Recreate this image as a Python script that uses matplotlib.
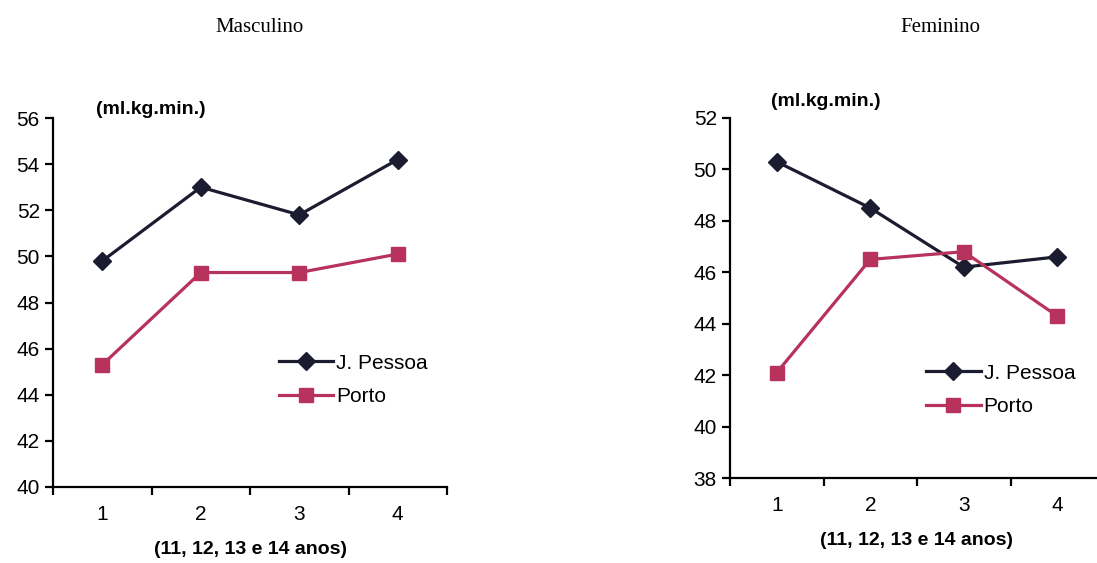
import matplotlib
matplotlib.use("Agg")
import matplotlib.pyplot as plt

# data
idades = [1, 2, 3, 4]
masc_pessoa = [49.8, 53.0, 51.8, 54.2]
masc_porto = [45.3, 49.3, 49.3, 50.1]
fem_pessoa = [50.3, 48.5, 46.2, 46.6]
fem_porto = [42.1, 46.5, 46.8, 44.3]

NAVY, ROSE = "#1C1C30", "#B8325E"
plt.rcParams["font.family"] = ["Liberation Sans", "DejaVu Sans"]

W, H = 1097, 563
fig = plt.figure(figsize=(W / 100, H / 100), dpi=100)


def painel(rect, pessoa, porto, ylim, titulo, tit_x, unid_y, leg_xy):
    ax = fig.add_axes(rect)
    ax.plot(idades, pessoa, color=NAVY, lw=2.3, marker="D", ms=9, label="J. Pessoa")
    ax.plot(idades, porto, color=ROSE, lw=2.3, marker="s", ms=10, label="Porto")
    ax.set_xlim(0.5, 4.5); ax.set_ylim(*ylim)
    ax.set_yticks(range(ylim[0], ylim[1] + 1, 2))
    ax.set_xticks([0.5, 1.5, 2.5, 3.5, 4.5]); ax.set_xticklabels([])
    ax.set_xticks(idades, minor=True)
    ax.set_xticklabels([str(i) for i in idades], minor=True)
    ax.tick_params(axis="x", which="minor", length=0, pad=13, labelsize=15)
    ax.tick_params(axis="both", which="major", direction="out", length=6, width=1.6, labelsize=15)
    ax.spines[["top", "right"]].set_visible(False)
    for s in ("left", "bottom"):
        ax.spines[s].set_linewidth(1.6)
    ax.set_xlabel("(11, 12, 13 e 14 anos)", fontweight="bold", fontsize=14, labelpad=12)
    fig.text(rect[0] + 0.11 * rect[2], 1 - unid_y / H, "(ml.kg.min.)", fontweight="bold",
             fontsize=14, va="center")
    ax.legend(loc="center left", bbox_to_anchor=leg_xy, frameon=False, fontsize=15,
              handlelength=2.6, handletextpad=0.15, labelspacing=0.7)
    fig.text(tit_x / W, 1 - 28 / H, titulo, family="Liberation Serif", fontsize=15,
             ha="center", va="center")
    return ax


painel([53 / W, 1 - 487 / H, (447 - 53) / W, (487 - 118) / H],
       masc_pessoa, masc_porto, (40, 56), "Masculino", 260, 110, (0.525, 0.29))
painel([730 / W, 1 - 478 / H, (1104 - 730) / W, (478 - 118) / H],
       fem_pessoa, fem_porto, (38, 52), "Feminino", 940, 101, (0.475, 0.245))

fig.savefig("out.png", dpi=100)
